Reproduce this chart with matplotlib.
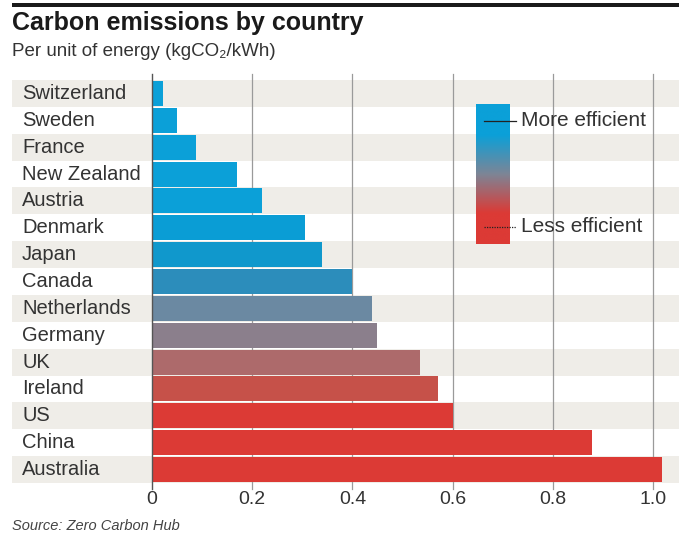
import numpy as np
import matplotlib
matplotlib.use("Agg")
import matplotlib.pyplot as plt
from matplotlib.colors import LinearSegmentedColormap
from matplotlib.lines import Line2D
from matplotlib.patches import Rectangle

plt.rcParams['font.family'] = ['Liberation Sans Narrow', 'Liberation Sans', 'DejaVu Sans']

countries = ['Switzerland', 'Sweden', 'France', 'New Zealand', 'Austria',
             'Denmark', 'Japan', 'Canada', 'Netherlands', 'Germany',
             'UK', 'Ireland', 'US', 'China', 'Australia']
emissions = [0.022, 0.05, 0.088, 0.17, 0.22, 0.305, 0.34, 0.40, 0.44,
             0.45, 0.535, 0.57, 0.60, 0.878, 1.018]
ticks = [0, 0.2, 0.4, 0.6, 0.8, 1.0]
tick_labels = ['0', '0.2', '0.4', '0.6', '0.8', '1.0']

bar_colors = ['#0ba0d8', '#0ba0d8', '#0ba0d8', '#0ba0d8', '#0ba0d8',
              '#0a9dd5', '#1098cc', '#2c8dbb', '#6b89a2', '#8b7f8c',
              '#ad6a6b', '#c65149', '#dc3a35', '#dc3a35', '#dc3a35']

fig = plt.figure(figsize=(6.79, 5.39), dpi=100)

# top rule
fig.add_artist(Rectangle((12 / 679, 1 - 7 / 539), 1, 4 / 539,
                         transform=fig.transFigure, color='#1a1a1a', lw=0))

fig.text(12 / 679, 1 - 23 / 539, 'Carbon emissions by country',
         fontsize=18, fontweight='bold', color='#1a1a1a', va='center')
fig.text(12 / 679, 1 - 51 / 539, 'Per unit of energy (kgCO\u2082/kWh)',
         fontsize=13.5, color='#333333', va='center')

ax = fig.add_axes([12 / 679, 1 - 483 / 539, 1 - 12 / 679, 403 / 539])
xmin = (12 - 152) / 501
xmax = (679 - 152) / 501
ax.set_xlim(xmin, xmax)
ax.set_ylim(len(countries) - 0.5, -0.5)

for i in range(len(countries)):
    if i % 2 == 0:
        ax.axhspan(i - 0.5, i + 0.5, color='#efede8', lw=0, zorder=0)

for t in ticks[1:]:
    ax.axvline(t, color='#9a9a9a', lw=0.9, zorder=1, ymin=-0.015, ymax=1.015,
               clip_on=False)

y = np.arange(len(countries))
ax.barh(y, emissions, height=0.93, color=bar_colors, lw=0, zorder=2)
ax.axvline(0, color='#555555', lw=1.0, zorder=3, ymin=-0.015, ymax=1.015,
           clip_on=False)

for i, c in enumerate(countries):
    ax.text(xmin + 10 / 501, i, c, fontsize=14.5, color='#333333',
            va='center', ha='left', zorder=4)

ax.set_yticks([])
ax.set_xticks(ticks)
ax.set_xticklabels(tick_labels, fontsize=14, color='#333333')
ax.tick_params(axis='x', length=0, pad=6)
for s in ax.spines.values():
    s.set_visible(False)

fig.text(12 / 679, 1 - 526 / 539, 'Source: Zero Carbon Hub',
         fontsize=10.5, style='italic', color='#444444', va='center')

# legend gradient
cmap = LinearSegmentedColormap.from_list(
    'eff', [(0, '#0ba0d8'), (0.22, '#0ba0d8'), (0.5, '#7d8596'),
            (0.78, '#dc3a35'), (1, '#dc3a35')])
lax = fig.add_axes([476 / 679, 1 - 244 / 539, 33 / 679, 140 / 539])
grad = np.linspace(0, 1, 256).reshape(-1, 1)
lax.imshow(grad, aspect='auto', cmap=cmap, extent=(0, 1, 1, 0))
lax.set_xlim(0, 1)
lax.set_ylim(1, 0)
lax.axis('off')

fig.add_artist(Line2D([484 / 679, 516 / 679], [1 - 121 / 539, 1 - 121 / 539],
                      transform=fig.transFigure, color='#222222', lw=0.9))
fig.add_artist(Line2D([484 / 679, 516 / 679], [1 - 227 / 539, 1 - 227 / 539],
                      transform=fig.transFigure, color='#222222', lw=0.9,
                      linestyle=(0, (1, 1))))
fig.text(521 / 679, 1 - 121 / 539, 'More efficient', fontsize=15,
         color='#333333', va='center')
fig.text(521 / 679, 1 - 227 / 539, 'Less efficient', fontsize=15,
         color='#333333', va='center')

fig.savefig('out.png', dpi=100)
